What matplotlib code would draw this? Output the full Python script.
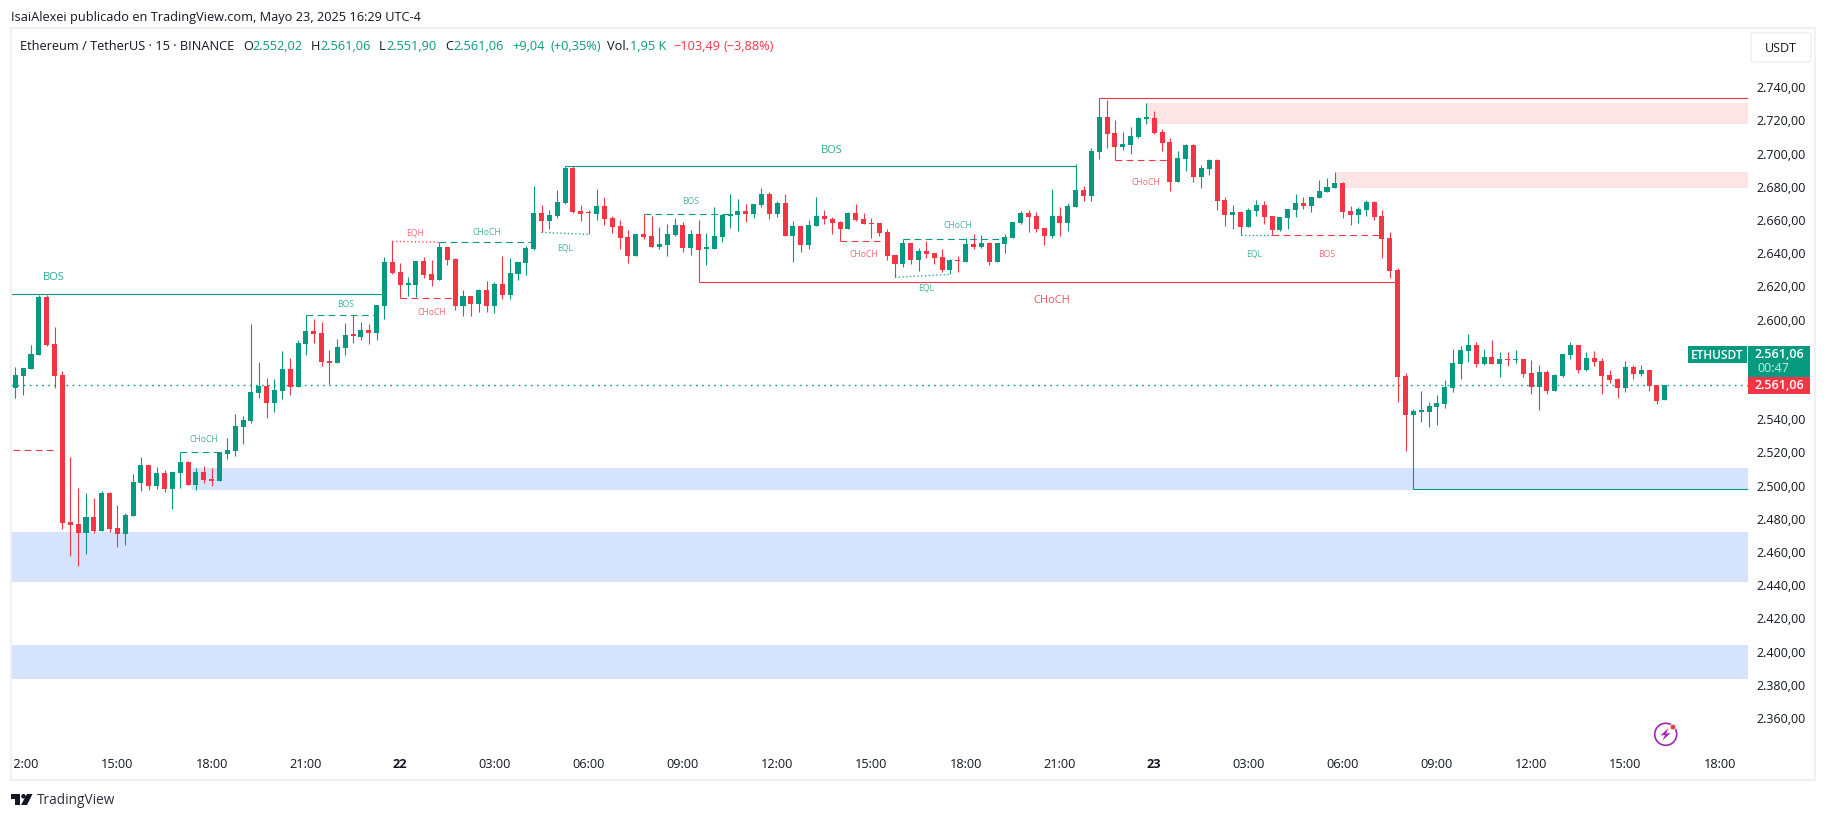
import matplotlib
matplotlib.use('Agg')
import matplotlib.pyplot as plt
from matplotlib.patches import Rectangle, FancyBboxPatch, Circle, Polygon
from matplotlib.transforms import ScaledTranslation
import numpy as np

GREEN = '#089981'
RED = '#f23645'
INK = '#131722'
FONT = 'Open Sans'

plt.rcParams['font.family'] = [FONT, 'DejaVu Sans']

# ---- candles (ETHUSDT 15m), bar 0 is 11:45
opens = [2559.3, 2566.6, 2570.8, 2579.2, 2614.2, 2585.8, 2567.2, 2478.6, 2477.4, 2472.0,
         2481.6, 2473.2, 2496.1, 2475.0, 2471.4, 2482.2, 2502.1, 2513.0, 2500.3, 2508.1,
         2498.5, 2508.1, 2514.8, 2500.9, 2508.7, 2504.5, 2503.3, 2519.6, 2521.4, 2535.9,
         2539.5, 2556.3, 2560.5, 2550.3, 2557.5, 2570.8, 2559.9, 2585.8, 2593.7, 2592.5,
         2575.6, 2574.4, 2583.4, 2591.3, 2590.1, 2594.3, 2592.5, 2608.7, 2635.2, 2629.2,
         2621.4, 2621.4, 2635.8, 2628.0, 2624.4, 2644.3, 2637.0, 2608.7, 2614.7, 2609.9,
         2618.4, 2608.7, 2622.0, 2615.3, 2628.0, 2634.6, 2643.1, 2664.7, 2659.9, 2662.9,
         2670.8, 2691.9, 2665.9, 2665.3, 2664.1, 2669.0, 2661.7, 2656.9, 2650.3, 2638.8,
         2652.1, 2650.9, 2644.3, 2645.5, 2651.5, 2657.5, 2643.7, 2652.1, 2643.1, 2643.1,
         2650.3, 2662.9, 2663.5, 2665.9, 2664.1, 2669.6, 2676.2, 2664.1, 2670.8, 2650.9,
         2656.9, 2645.5, 2656.9, 2662.9, 2661.1, 2659.3, 2655.1, 2664.7, 2661.1, 2658.7,
         2658.7, 2653.3, 2639.4, 2634.0, 2646.7, 2636.4, 2641.9, 2640.6, 2638.2, 2630.4,
         2636.4, 2635.2, 2646.1, 2644.3, 2646.7, 2635.2, 2646.1, 2649.7, 2658.7, 2664.7,
         2662.9, 2655.7, 2650.9, 2663.0, 2658.8, 2668.4, 2678.6, 2675.0, 2701.5, 2722.6,
         2713.0, 2704.5, 2705.8, 2710.6, 2721.4, 2722.0, 2713.6, 2707.6, 2683.5, 2697.3,
         2705.8, 2686.5, 2691.3, 2696.7, 2672.6, 2663.6, 2665.4, 2656.4, 2666.0, 2669.6,
         2663.0, 2654.5, 2661.8, 2666.6, 2670.8, 2669.0, 2673.8, 2677.4, 2679.9, 2682.9,
         2666.0, 2663.6, 2666.6, 2671.4, 2663.0, 2649.7, 2630.4, 2566.6, 2543.1, 2544.9,
         2544.9, 2547.9, 2549.7, 2559.3, 2573.8, 2581.6, 2585.2, 2573.8, 2578.0, 2573.8,
         2576.8, 2576.2, 2576.8, 2568.4, 2560.0, 2569.0, 2557.5, 2566.6, 2579.2, 2585.2,
         2570.2, 2577.4, 2575.6, 2567.2, 2564.8, 2559.3, 2572.0, 2567.8, 2570.2, 2561.1,
         2552.02]

highs = [2572.0, 2571.4, 2585.2, 2615.4, 2615.4, 2596.1, 2569.6, 2517.8, 2499.1, 2496.1,
         2493.1, 2497.3, 2496.7, 2488.9, 2484.0, 2507.5, 2517.8, 2513.0, 2511.8, 2509.9,
         2508.7, 2520.6, 2515.4, 2511.1, 2512.3, 2511.1, 2520.8, 2529.2, 2543.7, 2542.5,
         2597.9, 2575.0, 2565.4, 2564.8, 2581.6, 2577.4, 2588.3, 2603.1, 2600.9, 2599.1,
         2582.2, 2588.9, 2598.5, 2603.3, 2599.1, 2597.9, 2609.3, 2638.2, 2647.7, 2634.6,
         2626.2, 2635.8, 2638.2, 2636.4, 2647.1, 2644.3, 2637.6, 2618.4, 2614.7, 2619.0,
         2623.8, 2623.2, 2638.8, 2637.6, 2635.2, 2644.9, 2681.0, 2669.6, 2666.6, 2678.6,
         2692.9, 2692.9, 2669.6, 2666.6, 2679.2, 2674.4, 2662.9, 2660.5, 2654.5, 2652.1,
         2664.1, 2662.9, 2656.3, 2658.1, 2661.7, 2659.3, 2654.5, 2660.5, 2652.7, 2668.4,
         2663.5, 2676.2, 2673.2, 2670.2, 2670.2, 2679.8, 2677.4, 2672.0, 2676.2, 2659.9,
         2657.5, 2660.5, 2674.4, 2666.6, 2662.3, 2659.9, 2665.3, 2670.2, 2664.7, 2661.7,
         2658.7, 2655.1, 2639.4, 2649.1, 2646.7, 2643.7, 2647.9, 2640.6, 2643.1, 2637.0,
         2638.8, 2649.7, 2652.1, 2651.5, 2647.3, 2646.7, 2652.1, 2659.3, 2665.9, 2666.6,
         2665.3, 2655.7, 2679.2, 2668.4, 2670.8, 2694.3, 2681.1, 2704.0, 2733.9, 2732.9,
         2720.8, 2713.6, 2716.6, 2722.6, 2731.1, 2726.2, 2715.4, 2710.0, 2702.1, 2706.4,
         2706.4, 2693.7, 2697.3, 2697.3, 2674.4, 2669.6, 2666.0, 2667.8, 2672.6, 2672.0,
         2663.0, 2662.4, 2667.2, 2676.2, 2674.4, 2674.4, 2684.7, 2685.9, 2689.5, 2683.5,
         2669.0, 2668.4, 2672.6, 2672.0, 2666.6, 2653.3, 2631.6, 2568.4, 2546.7, 2557.5,
         2550.9, 2555.1, 2564.2, 2582.8, 2584.6, 2591.9, 2587.0, 2582.8, 2588.2, 2581.0,
         2581.0, 2582.2, 2576.8, 2576.2, 2573.2, 2570.2, 2567.8, 2579.8, 2587.0, 2585.2,
         2581.0, 2581.6, 2577.4, 2570.2, 2565.4, 2575.6, 2573.2, 2573.2, 2570.2, 2561.1,
         2561.06]

lows = [2553.3, 2555.1, 2570.8, 2579.2, 2584.6, 2559.3, 2474.4, 2458.1, 2452.1, 2459.3,
        2472.0, 2473.2, 2472.6, 2463.6, 2464.8, 2482.2, 2497.3, 2497.9, 2498.5, 2496.7,
        2486.4, 2499.1, 2500.9, 2497.9, 2502.1, 2500.3, 2503.3, 2516.6, 2518.4, 2525.6,
        2538.3, 2553.3, 2541.3, 2544.9, 2552.7, 2555.1, 2559.9, 2579.2, 2586.4, 2572.6,
        2561.8, 2574.4, 2579.2, 2586.4, 2588.3, 2585.8, 2588.3, 2600.9, 2628.0, 2613.3,
        2614.7, 2614.1, 2625.6, 2620.8, 2624.4, 2633.4, 2606.3, 2602.7, 2602.7, 2605.1,
        2605.1, 2604.5, 2612.9, 2612.9, 2624.4, 2627.4, 2642.5, 2653.3, 2655.1, 2661.7,
        2670.2, 2664.7, 2659.9, 2652.1, 2660.5, 2657.5, 2652.7, 2643.1, 2634.6, 2638.8,
        2649.1, 2644.3, 2643.1, 2638.8, 2650.9, 2641.3, 2639.4, 2623.0, 2633.4, 2643.1,
        2647.3, 2655.7, 2653.9, 2659.3, 2661.7, 2668.4, 2661.1, 2662.3, 2650.9, 2635.2,
        2641.3, 2643.1, 2656.9, 2658.1, 2652.1, 2647.7, 2655.1, 2659.9, 2658.1, 2649.7,
        2650.9, 2636.4, 2626.0, 2632.2, 2634.0, 2629.8, 2637.6, 2634.0, 2629.2, 2628.0,
        2629.2, 2635.2, 2643.1, 2643.7, 2633.4, 2635.2, 2640.6, 2649.7, 2658.1, 2653.3,
        2653.3, 2645.5, 2649.7, 2650.9, 2654.0, 2668.4, 2672.0, 2672.0, 2697.3, 2704.0,
        2696.9, 2702.7, 2700.3, 2710.0, 2718.4, 2712.4, 2702.1, 2678.0, 2683.5, 2690.1,
        2683.5, 2679.9, 2687.7, 2666.6, 2657.0, 2655.2, 2651.3, 2656.4, 2663.0, 2658.2,
        2651.3, 2654.0, 2655.2, 2662.4, 2667.2, 2665.4, 2673.8, 2677.4, 2679.9, 2661.8,
        2657.6, 2658.8, 2663.0, 2660.6, 2637.7, 2625.6, 2550.9, 2521.4, 2498.5, 2538.9,
        2535.8, 2537.0, 2547.3, 2557.0, 2564.8, 2575.0, 2572.0, 2573.2, 2573.8, 2566.0,
        2572.6, 2574.4, 2566.0, 2555.7, 2546.1, 2555.7, 2557.5, 2566.0, 2576.8, 2568.4,
        2569.6, 2572.6, 2555.7, 2562.4, 2553.3, 2557.0, 2564.8, 2566.6, 2557.5, 2549.7,
        2551.90]

closes = [2567.2, 2571.4, 2579.8, 2614.2, 2585.2, 2566.6, 2478.0, 2476.8, 2472.0, 2481.6,
          2473.2, 2496.1, 2474.4, 2471.4, 2482.8, 2502.7, 2513.0, 2500.3, 2508.1, 2498.5,
          2508.7, 2514.8, 2500.9, 2508.7, 2503.9, 2503.3, 2520.8, 2522.0, 2536.5, 2540.1,
          2556.9, 2560.7, 2550.3, 2558.1, 2570.8, 2559.9, 2586.4, 2593.7, 2591.9, 2575.0,
          2574.4, 2584.0, 2591.3, 2590.7, 2594.3, 2592.5, 2609.3, 2635.2, 2628.6, 2621.4,
          2622.0, 2635.8, 2627.4, 2624.4, 2644.3, 2636.4, 2608.7, 2614.7, 2609.9, 2618.4,
          2608.7, 2622.0, 2615.3, 2628.6, 2635.2, 2643.7, 2664.7, 2659.9, 2663.5, 2671.4,
          2691.9, 2665.3, 2664.1, 2664.7, 2669.0, 2661.1, 2656.3, 2649.7, 2638.8, 2652.1,
          2650.3, 2644.3, 2646.1, 2652.1, 2657.5, 2643.7, 2652.1, 2642.5, 2643.7, 2650.9,
          2663.5, 2664.1, 2665.9, 2664.1, 2670.2, 2676.2, 2664.1, 2670.8, 2650.9, 2656.9,
          2645.5, 2657.5, 2662.9, 2661.1, 2658.7, 2655.1, 2664.7, 2660.5, 2658.1, 2658.1,
          2652.7, 2638.8, 2634.0, 2646.7, 2636.4, 2641.9, 2640.0, 2637.6, 2630.4, 2636.4,
          2635.8, 2646.1, 2644.3, 2646.7, 2635.2, 2646.7, 2650.3, 2659.3, 2664.7, 2662.3,
          2655.1, 2650.9, 2662.9, 2658.8, 2669.0, 2678.6, 2675.0, 2702.1, 2722.6, 2712.4,
          2704.5, 2706.4, 2711.2, 2722.0, 2722.0, 2713.0, 2707.0, 2683.5, 2697.9, 2705.8,
          2686.5, 2691.9, 2696.7, 2672.0, 2663.6, 2665.4, 2656.4, 2666.6, 2669.6, 2662.4,
          2654.5, 2662.4, 2667.2, 2670.8, 2669.0, 2674.4, 2678.0, 2680.5, 2682.9, 2665.4,
          2663.6, 2667.2, 2671.4, 2662.4, 2649.1, 2629.9, 2566.0, 2543.1, 2545.5, 2545.5,
          2548.5, 2550.3, 2560.0, 2574.4, 2582.2, 2585.2, 2573.8, 2578.0, 2573.8, 2576.8,
          2576.2, 2576.8, 2567.8, 2560.0, 2569.0, 2557.5, 2567.2, 2579.8, 2585.2, 2570.2,
          2577.4, 2575.0, 2566.6, 2564.2, 2559.3, 2572.0, 2567.8, 2570.2, 2560.6, 2551.5,
          2561.06]

last_price = 2561.06

# ---- supply / demand boxes: first bar (None = pane edge), top, bottom
demand_start = [22.5, None, None]
demand_top = [2511.1, 2472.6, 2404.5]
demand_bottom = [2497.9, 2442.5, 2384.0]
supply_start = [144, 168]
supply_top = [2731.1, 2689.5]
supply_bottom = [2718.4, 2679.9]

# ---- market structure lines
major_start = [-0.55, 70, 87, 138, 178]
major_end = [47, 135, 176, 220.6, 220.6]
major_price = [2615.8, 2692.9, 2623.0, 2733.9, 2498.5]
major_up = [True, True, False, False, True]

dash_start = [37, 21, -0.3, 54, 49, 80, 105, 113, 140, 160]
dash_end = [46, 26, 5, 66, 56, 91, 111, 126, 147, 174]
dash_price = [2603.1, 2520.6, 2521.8, 2647.1, 2613.3, 2663.9, 2647.7, 2648.9, 2696.9, 2651.3]
dash_up = [True, True, False, True, False, True, False, True, False, False]

dot_start = [48, 67, 112, 156]
dot_end = [54, 73, 119, 160]
dot_price0 = [2647.7, 2653.1, 2626.0, 2651.3]
dot_price1 = [2647.1, 2651.9, 2627.8, 2651.3]
dot_up = [False, True, True, True]

small_labels = ['BOS', 'CHoCH', 'EQH', 'CHoCH', 'CHoCH', 'EQL', 'BOS', 'CHoCH', 'CHoCH', 'EQL',
                'CHoCH', 'EQL', 'BOS']
small_label_bar = [42, 24, 50.9, 60, 53, 70, 86, 108, 120, 116, 143.9, 157.7, 166.9]
small_label_price = [2610.4, 2528.7, 2653.6, 2653.6, 2605.2, 2644.4, 2672.1, 2640.2, 2657.6, 2620.3,
                     2684.0, 2640.6, 2640.6]
small_label_up = [True, True, False, True, False, True, True, False, True, True,
                  False, True, False]
big_labels = ['BOS', 'BOS', 'CHoCH']
big_label_bar = [4.9, 103.9, 132]
big_label_price = [2626.5, 2703.0, 2612.8]
big_label_up = [True, True, False]

# ---- axes
price_ticks = list(range(2360, 2741, 20))
time_ticks = list(range(1, 218, 12))
time_labels = ['12:00', '15:00', '18:00', '21:00', '22', '03:00', '06:00', '09:00', '12:00', '15:00',
               '18:00', '21:00', '23', '03:00', '06:00', '09:00', '12:00', '15:00', '18:00']


def fmt_price(value):
    return f'{value:,.2f}'.replace(',', '#').replace('.', ',').replace('#', '.')


W, H = 1826, 820
fig = plt.figure(figsize=(W / 100, H / 100), dpi=100, facecolor='white')


def px_x(x):
    return x / W


def px_y(y):
    return 1 - y / H


# chart pane in pixels
L, R, T, B = 11, 1748, 30, 750
ax = fig.add_axes([px_x(L), px_y(B), (R - L) / W, (B - T) / H], zorder=1)
ax.set_xlim(-0.5475, 220.6)
ax.set_ylim(2341.9, 2775.6)
for s in ax.spines.values():
    s.set_visible(False)

# zones first, they sit behind the candles
for start, top, bottom in zip(demand_start, demand_top, demand_bottom):
    x0 = -0.5475 if start is None else start
    ax.add_patch(Rectangle((x0, bottom), 220.6 - x0, top - bottom, fc='#d6e3fd', ec='none', zorder=1))
for start, top, bottom in zip(supply_start, supply_top, supply_bottom):
    ax.add_patch(Rectangle((start, bottom), 220.6 - start, top - bottom, fc='#fde4e5', ec='none', zorder=1))

ax.axhline(last_price, color=GREEN, lw=1.0, ls=(0, (1.2, 3.2)), zorder=2)

o = np.array(opens)
h = np.array(highs)
l = np.array(lows)
c = np.array(closes)
bars = np.arange(len(o))
colors = np.where(c >= o, GREEN, RED)
ax.vlines(bars, l, h, colors=colors, lw=0.8, zorder=3)
ax.bar(bars, np.maximum(np.abs(c - o), 0.9), bottom=np.minimum(o, c), width=0.64, color=colors,
       lw=0, zorder=4)

for x0, x1, p, up in zip(major_start, major_end, major_price, major_up):
    ax.plot([x0, x1], [p, p], color=GREEN if up else RED, lw=0.8, zorder=3, solid_capstyle='butt')
for x0, x1, p, up in zip(dash_start, dash_end, dash_price, dash_up):
    ax.plot([x0, x1], [p, p], color=GREEN if up else RED, lw=0.8, ls=(0, (6, 4)), zorder=3)
for x0, x1, p0, p1, up in zip(dot_start, dot_end, dot_price0, dot_price1, dot_up):
    ax.plot([x0, x1], [p0, p1], color=GREEN if up else RED, lw=0.9, ls=(0, (1, 2)), zorder=3)

for name, x, p, up in zip(small_labels, small_label_bar, small_label_price, small_label_up):
    ax.text(x, p, name, color=GREEN if up else RED, alpha=0.75, fontsize=6.2, ha='center', va='center', zorder=5)
for name, x, p, up in zip(big_labels, big_label_bar, big_label_price, big_label_up):
    ax.text(x, p, name, color=GREEN if up else RED, alpha=0.85, fontsize=8, ha='center', va='center', zorder=5)

ax.yaxis.tick_right()
ax.set_yticks(price_ticks)
ax.set_yticklabels([fmt_price(v) for v in price_ticks])
ax.set_xticks(time_ticks)
ax.set_xticklabels(time_labels)
ax.tick_params(axis='y', length=0, pad=6.3, labelsize=9.0, labelcolor=INK)
ax.tick_params(axis='x', length=0, pad=6, labelsize=9.2, labelcolor=INK)
lift = ScaledTranslation(0, 2 / 100, fig.dpi_scale_trans)
for t in ax.get_yticklabels():
    t.set_transform(t.get_transform() + lift)
for t in ax.get_xticklabels():
    if t.get_text() in ('22', '23'):
        t.set_fontweight('bold')

# white strip hides the clipped first time label, then the pane frame
fig.add_artist(Rectangle((0, px_y(780)), px_x(9.5), 60 / H, fc='white', ec='none', zorder=6))
fig.add_artist(Rectangle((px_x(10.5), px_y(780.5)), (1815 - 10.5) / W, (780.5 - 28.5) / H, fc='none',
                         ec='#f0f1f5', lw=1.5, zorder=7))

# price tags on the right
fig.add_artist(Rectangle((px_x(1688), px_y(364)), 59 / W, 17 / H, fc=GREEN, ec='none', zorder=8))
fig.add_artist(Rectangle((px_x(1748), px_y(378)), 61.5 / W, 31 / H, fc=GREEN, ec='none', zorder=8))
fig.add_artist(Rectangle((px_x(1748), px_y(395)), 61.5 / W, 17 / H, fc=RED, ec='none', zorder=8))
tag = dict(color='white', va='center', zorder=9)
fig.text(px_x(1717.5), px_y(355.5), 'ETHUSDT', ha='center', fontsize=8.6, fontweight='semibold', **tag)
fig.text(px_x(1804), px_y(355), fmt_price(last_price), ha='right', fontsize=9.0, fontweight='semibold', **tag)
fig.text(px_x(1757), px_y(369), '00:47', ha='left', fontsize=9.0, alpha=0.8, **tag)
fig.text(px_x(1804), px_y(386), fmt_price(last_price), ha='right', fontsize=9.0, fontweight='semibold', **tag)

# USDT button
fig.add_artist(FancyBboxPatch((px_x(1751), px_y(63)), 60 / W, 29 / H, boxstyle='round,pad=0,rounding_size=0.003',
                              fc='white', ec='#f0f1f5', lw=1.2, zorder=8, mutation_aspect=H / W))
fig.text(px_x(1781), px_y(48.5), 'USDT', color=INK, fontsize=9.0, ha='center', va='center', zorder=9)

# header lines
fig.text(px_x(11), px_y(17), 'IsaiAlexei publicado en TradingView.com, Mayo 23, 2025 16:29 UTC-4', color=INK,
         fontsize=9.2, va='center')
hdr = [(20, 'Ethereum / TetherUS · 15 · BINANCE', INK), (243, 'O', INK), (252, '2.552,02', GREEN),
       (311, 'H', INK), (320, '2.561,06', GREEN), (379, 'L', INK), (386, '2.551,90', GREEN),
       (445, 'C', INK), (453, '2.561,06', GREEN), (512, '+9,04', GREEN), (550, '(+0,35%)', GREEN),
       (607, 'Vol.', INK), (630, '1,95 K', GREEN), (673, '−103,49', RED), (723, '(−3,88%)', RED)]
for x, s, col in hdr:
    fig.text(px_x(x), px_y(47), s, color=col, fontsize=9.2, va='center', zorder=9)

# lightning badge
badge_ax = fig.add_axes([px_x(1650), px_y(750), 32 / W, 32 / H], zorder=3)
badge_ax.set_xlim(1650, 1682)
badge_ax.set_ylim(750, 718)
badge_ax.axis('off')
badge_ax.add_patch(Circle((1665.7, 735.3), 11, fc='white', ec='#9c27b0', lw=1.2))
badge_ax.add_patch(Polygon([(1668.5, 729), (1660.5, 736.5), (1665, 736), (1662.5, 741.5),
                            (1670.5, 734), (1666, 734.5)], fc='#9c27b0', ec='none'))
badge_ax.add_patch(Circle((1673, 728), 2.8, fc=RED, ec='white', lw=0.5))

# TradingView mark
logo_ax = fig.add_axes([px_x(10), px_y(809), 24 / W, 16 / H], zorder=3)
logo_ax.set_xlim(10, 34)
logo_ax.set_ylim(809, 793)
logo_ax.axis('off')
logo_ax.add_patch(Polygon([(11, 795), (20, 795), (20, 806), (15, 806), (15, 799.5), (11, 799.5)], fc=INK, ec='none'))
logo_ax.add_patch(Circle((23.5, 797.3), 2.3, fc=INK, ec='none'))
logo_ax.add_patch(Polygon([(27, 795), (32.5, 795), (27, 806), (21, 806)], fc=INK, ec='none'))
fig.text(px_x(37), px_y(801), 'TradingView', color='#2a2e39', fontsize=9.8, va='center')

fig.savefig('out.png', dpi=100, facecolor='white')
